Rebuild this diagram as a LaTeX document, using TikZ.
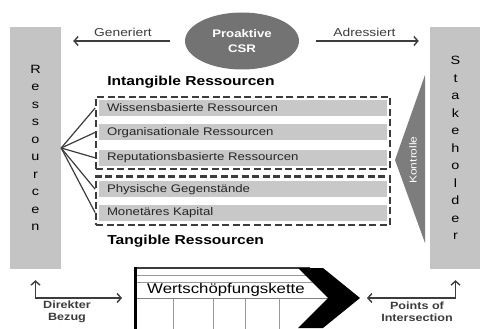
\documentclass[tikz,border=0pt]{standalone}
\usepackage{fontspec}
\setmainfont{Liberation Sans}[FakeStretch=1.2]
\usetikzlibrary{
    arrows.meta,
    positioning,
    fit,
    shapes.geometric
}
\definecolor{boxGray}{RGB}{196,196,196}
\definecolor{barGray}{RGB}{200,200,200}
\definecolor{csrGray}{RGB}{115,115,115}
\definecolor{ktrGray}{RGB}{125,125,125}
\definecolor{lineGray}{RGB}{60,60,60}
\tikzset{
  sidebox/.style = {fill=boxGray, minimum width=51pt, minimum height=242pt,
                    inner sep=0pt, align=center,
                    font=\fontsize{12}{17.5}\selectfont},
  resbar/.style  = {fill=barGray, minimum width=288pt, minimum height=16pt,
                    inner sep=0pt, text width=272pt, align=left,
                    text=black!85, font=\fontsize{11}{13}\selectfont},
  dashgrp/.style = {draw=lineGray, line width=2.3pt,
                    dash pattern=on 7pt off 3.5pt, inner xsep=2.5pt},
  grplabel/.style= {inner sep=0pt, font=\bfseries\fontsize{13}{15}\selectfont},
  barb/.style    = {-{Straight Barb[length=4pt,width=9pt]}, lineGray,
                    line width=1.4pt},
  fanline/.style = {lineGray, line width=1.2pt}
}

\begin{document}
\begin{tikzpicture}[
    x=1pt, y=-1pt,
    csr/.style={ellipse, fill=csrGray, minimum width=114pt,
                minimum height=57pt, inner sep=0pt, align=center,
                text=white, font=\bfseries\fontsize{11}{15}\selectfont},
    arrlabel/.style={inner sep=0pt, text=lineGray,
                     font=\fontsize{11.5}{13}\selectfont},
    botlabel/.style={inner sep=0pt, align=center, text=lineGray,
                     font=\bfseries\fontsize{10.5}{12}\selectfont},
    chainthin/.style={gray!80, line width=0.9pt}
]
\useasboundingbox (0,0) rectangle (480,329);

% side columns
\node[sidebox] (res) at (35.5,148) {R\\e\\s\\s\\o\\u\\r\\c\\e\\n};
\node[sidebox] (stk) at (455.5,148) {S\\t\\a\\k\\e\\h\\o\\l\\d\\e\\r};

% proactive CSR
\node[csr] (csr) at (242,41) {Proaktive\\CSR};
\draw[barb, shorten <=15pt, shorten >=12pt] (csr.west) --
    node[arrlabel, above=4pt] (gen) {Generiert} (csr.west -| res.east);
\draw[barb, shorten <=17pt, shorten >=11pt] (csr.east) --
    node[arrlabel, above=4pt] (adr) {Adressiert} (csr.east -| stk.west);

% resource bars
\node[resbar] (wis) at (243,108) {Wissensbasierte Ressourcen};
\node[resbar, below=8pt of wis] (org) {Organisationale Ressourcen};
\node[resbar, below=9pt of org] (rep) {Reputationsbasierte Ressourcen};
\node[resbar, below=15pt of rep] (phy) {Physische Gegenstände};
\node[resbar, below=7pt of phy] (mon) {Monetäres Kapital};

% groups
\node[dashgrp, inner ysep=3pt, fit=(wis)(rep)] (intang) {};
\node[dashgrp, inner ysep=4.5pt, fit=(phy)(mon)] (tang) {};
\node[grplabel, above right=7pt and 12pt of intang.north west]
    (intlbl) {Intangible Ressourcen};
\node[grplabel, below right=8pt and 12pt of tang.south west]
    (tanlbl) {Tangible Ressourcen};

% fan from Ressourcen
\foreach \b in {wis,org,rep,phy,mon}
  \draw[fanline] (res.east) -- (\b.west -| intang.west);

% Kontrolle
\fill[ktrGray] (395,160) -- (425,75) -- (425,243) -- cycle;
\node[rotate=90, inner sep=0pt, text=white,
      font=\fontsize{10}{11}\selectfont] (ktr) at (413,160) {Kontrolle};

% value chain
\coordinate (vcw) at (134,298);
\coordinate (vce) at (360,298);
\draw[chainthin] (134,275) -- (312,275);
\draw[chainthin] (134,282) -- (316,282);
\draw[gray, line width=1pt] (134,298) -- (328,298);
\foreach \x in {173,213,245,279}
  \draw[chainthin] (\x,298) -- (\x,332);
\draw[lineGray, line width=1.6pt] (134,268) -- (310,268);
\draw[black, line width=3pt] (135.5,267.2) -- (135.5,332);
\fill[black] (298,268) -- (323,268) -- (360,298) -- (323,328)
    -- (298,328) -- (328,298) -- cycle;
\node[inner sep=0pt, font=\fontsize{14}{16}\selectfont]
    (vct) at (226,290) {Wertschöpfungskette};

% bottom connectors
\draw[barb, {Straight Barb[length=4pt,width=9pt]}-{Straight Barb[length=4pt,width=9pt]},
      shorten <=11pt, shorten >=12pt] (res.south) |- (vcw);
\draw[barb, {Straight Barb[length=4pt,width=9pt]}-{Straight Barb[length=4pt,width=9pt]},
      shorten <=11pt, shorten >=7pt] (stk.south) |- (vce);
\node[botlabel] (dir) at (67,312) {Direkter\\Bezug};
\node[botlabel] (poi) at (417,311.5) {Points of\\Intersection};

\end{tikzpicture}
\end{document}
